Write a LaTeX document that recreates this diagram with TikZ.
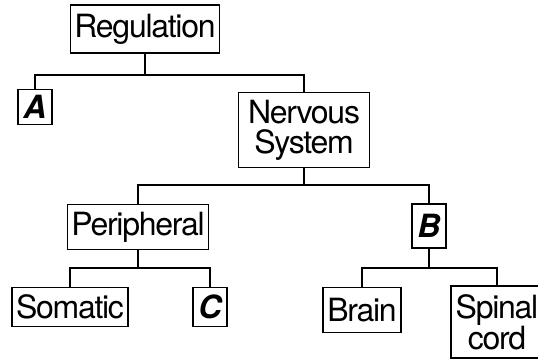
\documentclass[tikz,border=0pt]{standalone}
\usepackage{fontspec}
\setmainfont{TeX Gyre Heros}[LetterSpace=-4]

\begin{document}
\begin{tikzpicture}[x=1pt,y=-1pt,
  box/.style={draw,line width=1.7pt,inner xsep=4pt,inner ysep=0pt,minimum height=45pt,
    align=center,font=\fontsize{32}{30}\selectfont},
  letter/.style={box,inner xsep=0pt,minimum width=34pt,font=\fontsize{32}{30}\selectfont\bfseries\itshape},
  link/.style={line width=1.7pt}]
\useasboundingbox (0,0) rectangle (538,360);

% boxes
\node[box,minimum height=48pt] (reg) at (145,29) {Regulation};
\node[letter,minimum height=35pt] (A) at (35,107) {A};
\node[box,minimum height=75pt,minimum width=131pt] (ns) at (304,130) {Nervous\\System};
\node[box] (per) at (138,227) {Peripheral};
\node[letter,minimum height=44pt] (B) at (429,226) {B};
\node[box,minimum height=39pt] (som) at (70,307) {Somatic};
\node[letter,minimum height=39pt] (C) at (210,307) {C};
\node[box] (brain) at (362,310) {Brain};
\node[box,minimum height=72pt,minimum width=92pt,inner xsep=0pt] (sc) at (497,322) {Spinal\\cord};

% junctions
\coordinate (j1) at (145,75);
\coordinate (j2) at (304,185);
\coordinate (j3) at (138,268);
\coordinate (j4) at (429,268);

\draw[link] (reg) -- (j1);
\draw[link] (A.north) |- (j1) -| (ns.north);
\draw[link] (ns) -- (j2);
\draw[link] (per.north) |- (j2) -| (B.north);
\draw[link] (per) -- (j3);
\draw[link] (som.north) |- (j3) -| (C.north);
\draw[link] (B) -- (j4);
\draw[link] (brain.north) |- (j4) -| (sc.north);
\end{tikzpicture}
\end{document}
